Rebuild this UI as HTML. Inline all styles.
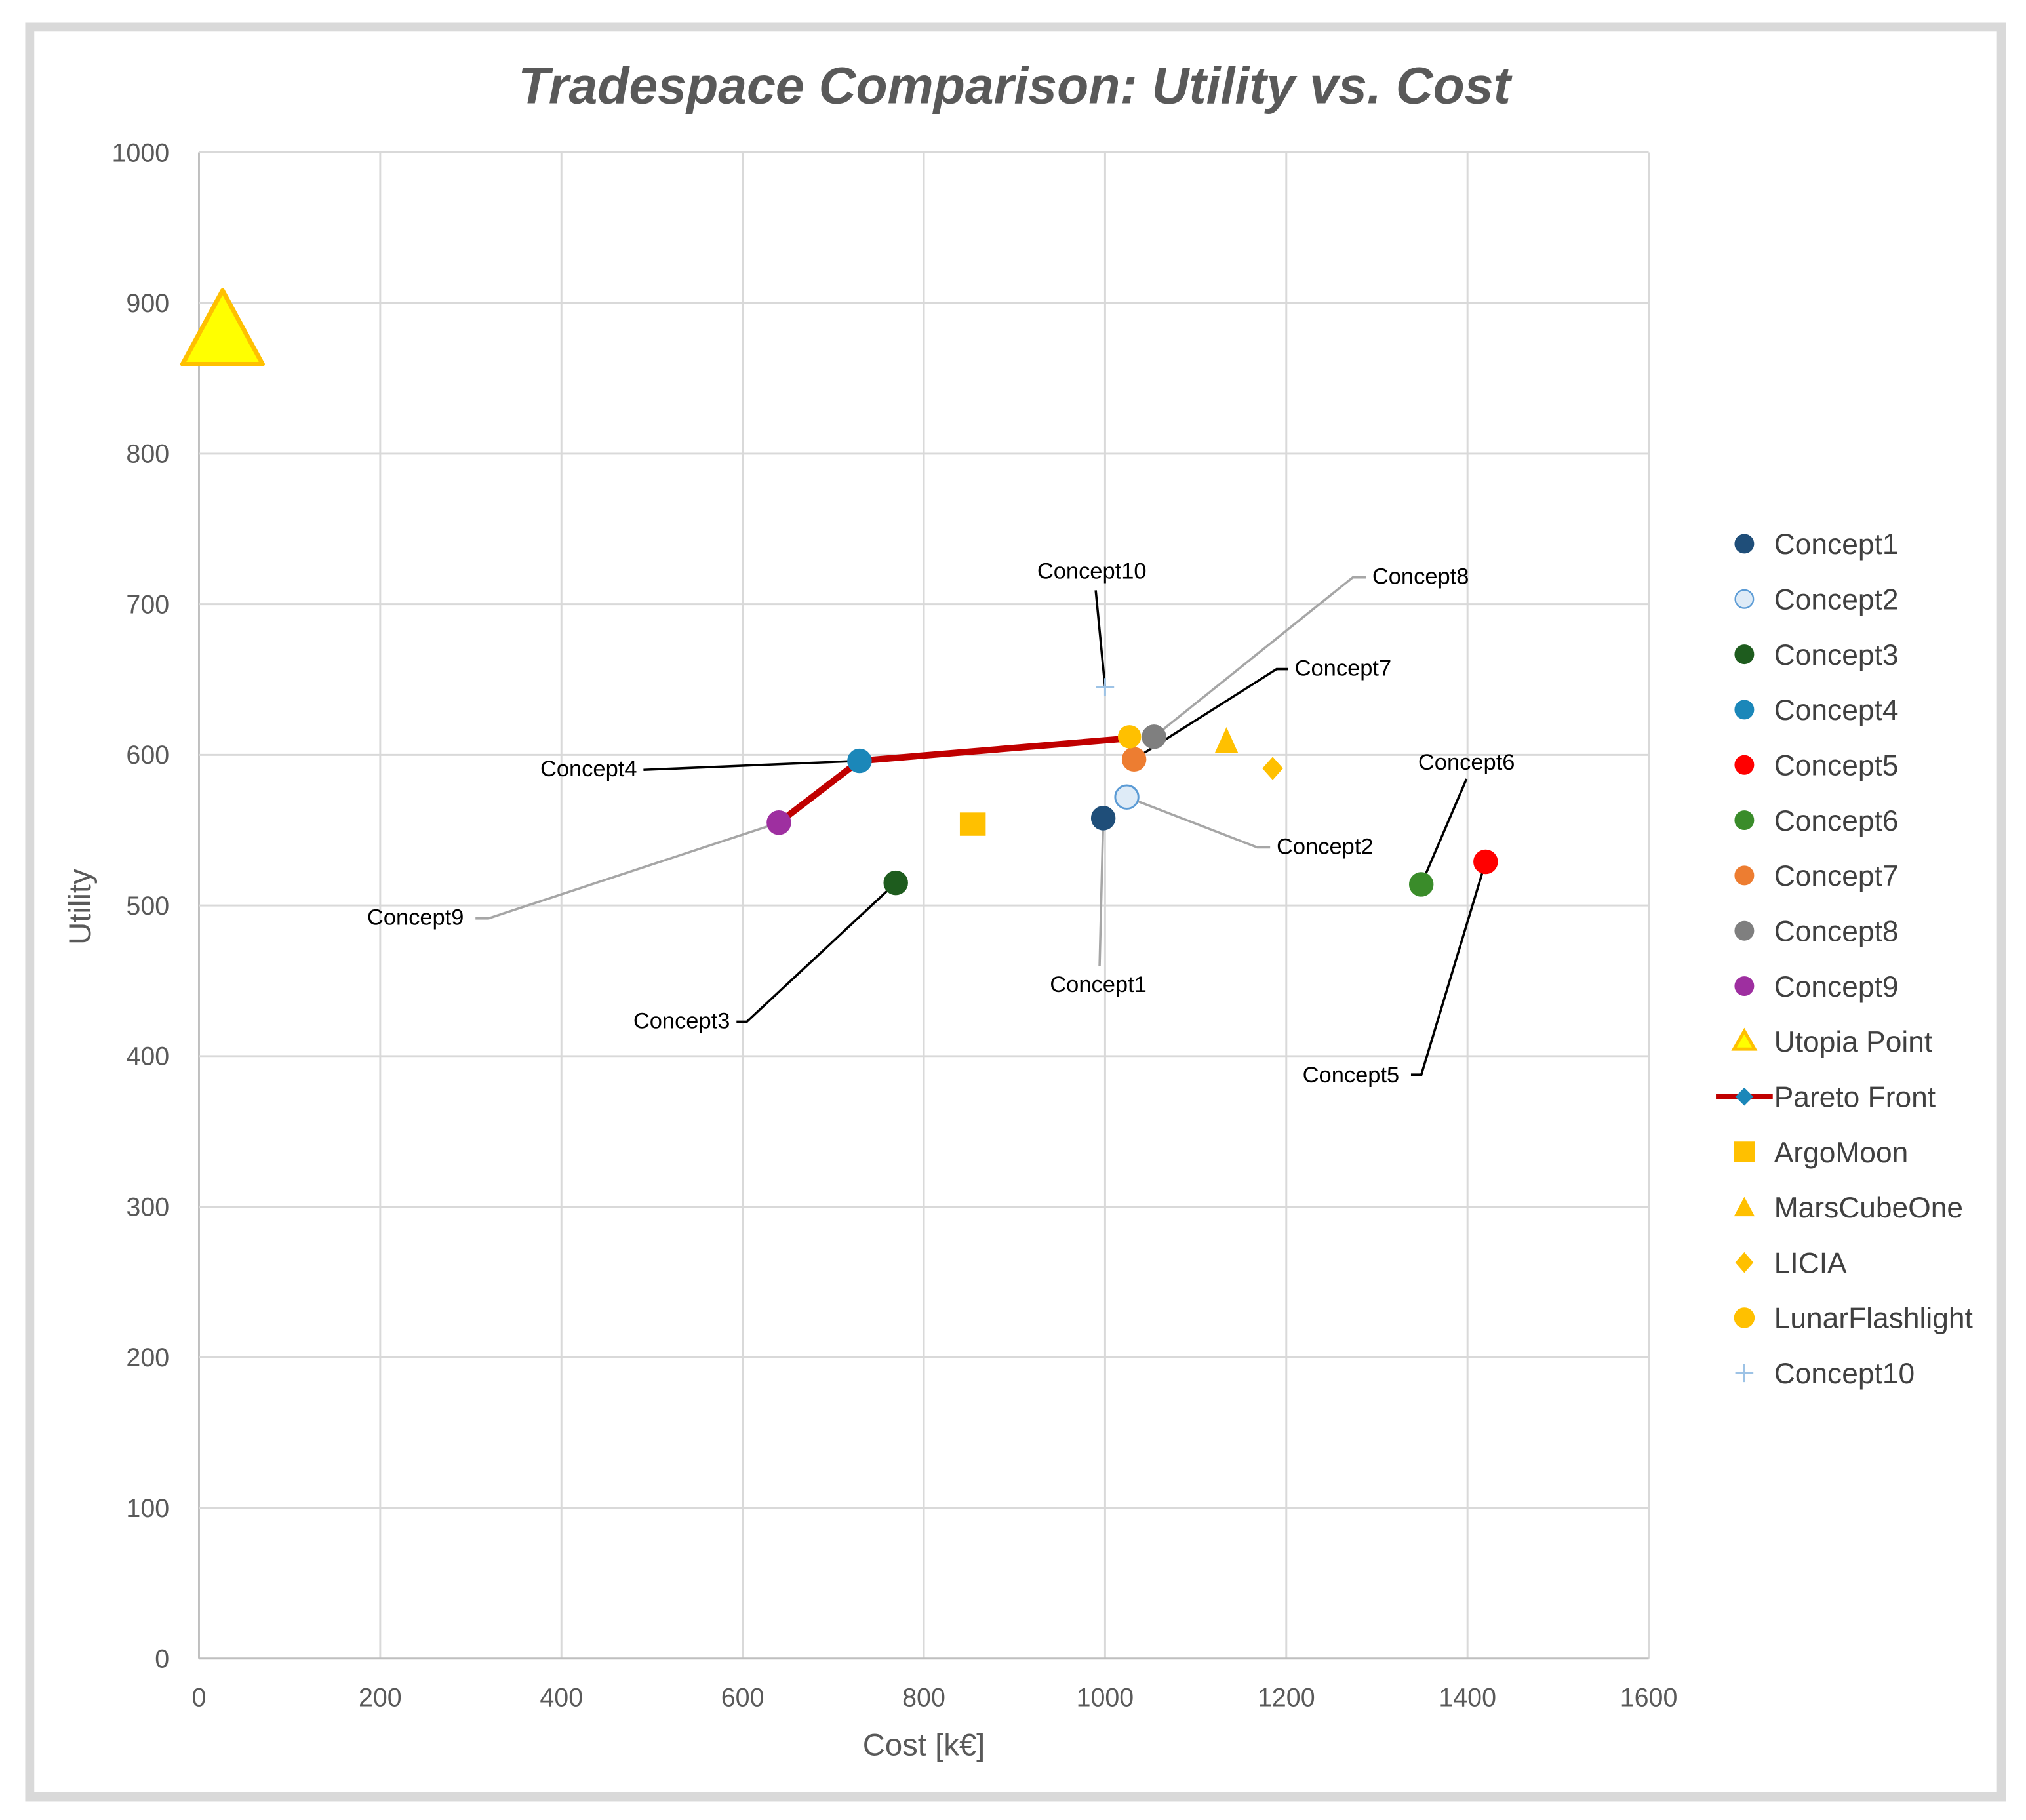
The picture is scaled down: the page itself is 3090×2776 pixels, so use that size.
<!DOCTYPE html>
<html><head><meta charset="utf-8"><style>
html,body{margin:0;padding:0;background:#fff;}
svg{display:block;}
text{font-family:"Liberation Sans",sans-serif;}
</style></head><body>
<svg id="chart" width="3090" height="2776" viewBox="0 0 1568 1409" preserveAspectRatio="none" xmlns="http://www.w3.org/2000/svg">
<rect x="23" y="21" width="1526" height="1370" fill="#fff" stroke="#d9d9d9" stroke-width="7"/>
<text x="785" y="80" text-anchor="middle" font-size="40" font-weight="bold" font-style="italic" fill="#595959">Tradespace Comparison: Utility vs. Cost</text>
<g id="grid"></g>
<g id="lines"></g>
<g id="marks"></g>
<g id="legend"></g>
<text x="715" y="1359" text-anchor="middle" font-size="24" fill="#595959">Cost [k€]</text>
<text transform="translate(70,702) rotate(-90)" text-anchor="middle" font-size="24" fill="#595959">Utility</text>
</svg>
<script>
const xTicks=[0,200,400,600,800,1000,1200,1400,1600];
const yTicks=[0,100,200,300,400,500,600,700,800,900,1000];
const conceptNames=["Concept1","Concept2","Concept3","Concept4","Concept5","Concept6","Concept7","Concept8","Concept9"];
const conceptCost=[998,1024,769,729,1420,1349,1032,1054,640];
const conceptUtility=[558,572,515,596,529,514,597,612,555];
const conceptColors=["#1f4e79","#deebf7","#1e5c1e","#1b87b9","#ff0000","#3a8c2a","#ed7d31","#7f7f7f","#9e2fa0"];
const paretoCost=[640,729,1027];
const paretoUtility=[555,596,611];
const utopiaCost=[26]; const utopiaUtility=[880];
const argoCost=[854]; const argoUtility=[554];
const marsCost=[1134]; const marsUtility=[609];
const liciaCost=[1185]; const liciaUtility=[591];
const lunarCost=[1027]; const lunarUtility=[612];
const c10Cost=[1000]; const c10Utility=[645];
const legendLabels=["Concept1","Concept2","Concept3","Concept4","Concept5","Concept6","Concept7","Concept8","Concept9","Utopia Point","Pareto Front","ArgoMoon","MarsCubeOne","LICIA","LunarFlashlight","Concept10"];

const X0=154,X1=1276,Y0=1284,Y1=118;
function sx(v){return X0+(v-0)/1600*(X1-X0);}
function sy(v){return Y0-(v-0)/1000*(Y0-Y1);}
const NS="http://www.w3.org/2000/svg";
function mk(tag,attrs,parent){const e=document.createElementNS(NS,tag);for(const k in attrs)e.setAttribute(k,attrs[k]);parent.appendChild(e);return e;}
const grid=document.getElementById('grid'),lines=document.getElementById('lines'),marks=document.getElementById('marks'),legend=document.getElementById('legend');

xTicks.forEach(t=>{
  const l=mk('line',{x1:sx(t),x2:sx(t),y1:Y1,y2:Y0,stroke:t===0?'#bfbfbf':'#d9d9d9','stroke-width':1.5},grid);
  
  
  const tx=mk('text',{x:sx(t),y:Y0+37,'text-anchor':'middle','font-size':20,fill:'#595959'},grid);
  tx.textContent=t;
  
  
});
yTicks.forEach(t=>{
  const l=mk('line',{x1:X0,x2:X1,y1:sy(t),y2:sy(t),stroke:t===0?'#bfbfbf':'#d9d9d9','stroke-width':1.5},grid);
  
  
  const tx=mk('text',{x:131,y:sy(t)+7,'text-anchor':'end','font-size':20,fill:'#595959'},grid);
  tx.textContent=t;
  
  
});

const pts=paretoCost.map((c,i)=>sx(c)+','+sy(paretoUtility[i])).join(' ');
const pl=mk('polyline',{points:pts,fill:'none',stroke:'#c00000','stroke-width':5,'stroke-linejoin':'round'},lines);



const leaders=[
 ["Concept10",845,448,"middle",[[848,457]],"#000",9],
 ["Concept8",1062,452,"start",[[1057,447],[1047,447]],"#a6a6a6",7],
 ["Concept7",1002,523,"start",[[997,518],[988,518]],"#000",6],
 ["Concept4",493,601,"end",[[498,596]],"#000",3],
 ["Concept9",359,716,"end",[[368,711],[378,711]],"#a6a6a6",8],
 ["Concept3",565,796,"end",[[570,791],[578,791]],"#000",2],
 ["Concept1",850,768,"middle",[[851,748]],"#a6a6a6",0],
 ["Concept2",988,661,"start",[[983,656],[973,656]],"#a6a6a6",1],
 ["Concept6",1135,596,"middle",[[1135,603]],"#000",5],
 ["Concept5",1083,838,"end",[[1092,832],[1100,832]],"#000",4]
];
leaders.forEach(L=>{
  const [name,lx,ly,anc,p,col,idx]=L;
  let tx_,ty_;
  if(name==="Concept10"){tx_=sx(c10Cost[0]);ty_=sy(c10Utility[0]);}
  else{tx_=sx(conceptCost[idx]);ty_=sy(conceptUtility[idx]);}
  const all=p.map(q=>q.join(',')).concat([tx_+','+ty_]).join(' ');
  const ll=mk('polyline',{points:all,fill:'none',stroke:col,'stroke-width':1.8},lines);
  
  
  const t=mk('text',{x:lx,y:ly,'text-anchor':anc,'font-size':17.5,fill:'#000'},lines);
  t.textContent=name;
  
  
});

conceptCost.forEach((c,i)=>{
  const m=mk('circle',{cx:sx(c),cy:sy(conceptUtility[i]),r:9,fill:conceptColors[i],stroke:i===1?'#5b9bd5':conceptColors[i],'stroke-width':i===1?1.5:1},marks);
  
  
});
{const cx=sx(utopiaCost[0]),cy=sy(utopiaUtility[0]);
 const u=mk('polygon',{points:`${cx},${cy-33} ${cx+31},${cy+24} ${cx-31},${cy+24}`,fill:'#ffff00',stroke:'#ffc000','stroke-width':3.5,'stroke-linejoin':'round'},marks);
 
 }
{const cx=sx(argoCost[0]),cy=sy(argoUtility[0]);
 const a=mk('rect',{x:cx-10,y:cy-9,width:20,height:18,fill:'#ffc000'},marks);
 
 }
{const cx=sx(marsCost[0]),cy=sy(marsUtility[0]);
 const a=mk('polygon',{points:`${cx},${cy-11} ${cx+9},${cy+9} ${cx-9},${cy+9}`,fill:'#ffc000'},marks);
 
 }
{const cx=sx(liciaCost[0]),cy=sy(liciaUtility[0]);
 const a=mk('polygon',{points:`${cx},${cy-9} ${cx+8},${cy} ${cx},${cy+9} ${cx-8},${cy}`,fill:'#ffc000'},marks);
 
 }
{const cx=sx(lunarCost[0]),cy=sy(lunarUtility[0]);
 const a=mk('circle',{cx:cx,cy:cy,r:9,fill:'#ffc000'},marks);
 
 }
{const cx=sx(c10Cost[0]),cy=sy(c10Utility[0]);
 const a=mk('path',{d:`M${cx-7},${cy}H${cx+7}M${cx},${cy-7}V${cy+7}`,stroke:'#9dc3e6','stroke-width':1.5},marks);
 
 }

legendLabels.forEach((lab,i)=>{
  const y=421+i*42.8, x=1350;
  const g=mk('g',{},legend);
  
  
  if(i<9){mk('circle',{cx:x,cy:y,r:7,fill:conceptColors[i],stroke:i===1?'#5b9bd5':conceptColors[i],'stroke-width':1.2},g);}
  else if(lab==="Utopia Point"){mk('polygon',{points:`${x},${y-8} ${x+8},${y+6} ${x-8},${y+6}`,fill:'#ffff00',stroke:'#ffc000','stroke-width':2.5},g);}
  else if(lab==="Pareto Front"){mk('line',{x1:x-22,x2:x+22,y1:y,y2:y,stroke:'#c00000','stroke-width':4},g);mk('polygon',{points:`${x},${y-7} ${x+7},${y} ${x},${y+7} ${x-7},${y}`,fill:'#1b87b9'},g);}
  else if(lab==="ArgoMoon"){mk('rect',{x:x-8,y:y-8,width:16,height:16,fill:'#ffc000'},g);}
  else if(lab==="MarsCubeOne"){mk('polygon',{points:`${x},${y-8} ${x+8},${y+7} ${x-8},${y+7}`,fill:'#ffc000'},g);}
  else if(lab==="LICIA"){mk('polygon',{points:`${x},${y-8} ${x+7},${y} ${x},${y+8} ${x-7},${y}`,fill:'#ffc000'},g);}
  else if(lab==="LunarFlashlight"){mk('circle',{cx:x,cy:y,r:8,fill:'#ffc000'},g);}
  else {mk('path',{d:`M${x-7},${y}H${x+7}M${x},${y-7}V${y+7}`,stroke:'#9dc3e6','stroke-width':1.5},g);}
  const t=mk('text',{x:1373,y:y+8,'font-size':22.5,fill:'#404040'},g);
  t.textContent=lab;
});
</script>
</body></html>
